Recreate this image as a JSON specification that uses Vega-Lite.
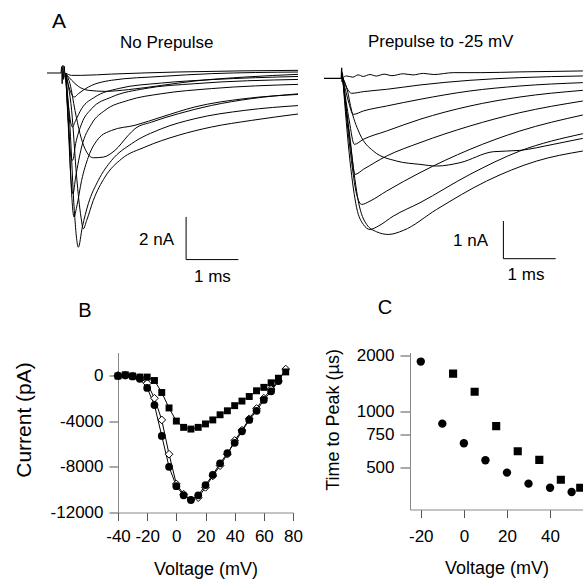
{
"$schema": "https://vega.github.io/schema/vega-lite/v6.json",
"padding": {"left": 13, "top": 10, "right": 0, "bottom": 2},
"config": {
  "font": "Liberation Sans",
  "view": {"stroke": null},
  "axis": {"grid": false, "labelFontSize": 17, "titleFontSize": 18, "titleFontWeight": "normal", "labelColor": "black", "titleColor": "black", "domainColor": "#888", "tickColor": "#555", "tickSize": 8, "labelFlush": false, "labelOverlap": false},
  "text": {"color": "black"}
},
"spacing": 291.5,
"bounds": "flush",
"datasets": {
  "a1": [
    {"trace":"T1","t":0.357,"I":0},{"trace":"T1","t":0.471,"I":-0.11},{"trace":"T1","t":0.662,"I":-0.11},{"trace":"T1","t":1.236,"I":-0.05},{"trace":"T1","t":2.51,"I":0.047},{"trace":"T1","t":4.834,"I":0.125},
    {"trace":"T2","t":0.357,"I":-0.03},{"trace":"T2","t":0.471,"I":-0.34},{"trace":"T2","t":0.599,"I":-0.625},{"trace":"T2","t":0.79,"I":-0.81},{"trace":"T2","t":1.108,"I":-0.86},{"trace":"T2","t":1.554,"I":-0.78},{"trace":"T2","t":2.191,"I":-0.58},{"trace":"T2","t":2.828,"I":-0.375},{"trace":"T2","t":3.783,"I":-0.19},{"trace":"T2","t":4.834,"I":-0.06},
    {"trace":"T3","t":0.357,"I":-0.03},{"trace":"T3","t":0.439,"I":-0.81},{"trace":"T3","t":0.522,"I":-1.125},{"trace":"T3","t":0.599,"I":-0.97},{"trace":"T3","t":0.79,"I":-0.66},{"trace":"T3","t":1.236,"I":-0.34},{"trace":"T3","t":2.191,"I":-0.16},{"trace":"T3","t":3.146,"I":-0.03},{"trace":"T3","t":4.834,"I":0.047},
    {"trace":"T4","t":0.357,"I":-0.03},{"trace":"T4","t":0.42,"I":-1.75},{"trace":"T4","t":0.484,"I":-2.53},{"trace":"T4","t":0.548,"I":-2.22},{"trace":"T4","t":0.662,"I":-1.67},{"trace":"T4","t":0.917,"I":-1.125},{"trace":"T4","t":1.363,"I":-0.73},{"trace":"T4","t":2.191,"I":-0.47},{"trace":"T4","t":3.146,"I":-0.31},{"trace":"T4","t":4.834,"I":-0.16},
    {"trace":"T5","t":0.357,"I":-0.03},{"trace":"T5","t":0.408,"I":-2.22},{"trace":"T5","t":0.459,"I":-3.94},{"trace":"T5","t":0.49,"I":-4.09},{"trace":"T5","t":0.548,"I":-3.31},{"trace":"T5","t":0.662,"I":-2.375},{"trace":"T5","t":0.854,"I":-1.67},{"trace":"T5","t":1.236,"I":-1.125},{"trace":"T5","t":1.873,"I":-0.73},{"trace":"T5","t":2.828,"I":-0.5},{"trace":"T5","t":4.834,"I":-0.3},
    {"trace":"T6","t":0.357,"I":-0.03},{"trace":"T6","t":0.439,"I":-0.5},{"trace":"T6","t":0.535,"I":-1.75},{"trace":"T6","t":0.631,"I":-2.84},{"trace":"T6","t":0.726,"I":-3.55},{"trace":"T6","t":0.885,"I":-3.97},{"trace":"T6","t":1.076,"I":-3.94},{"trace":"T6","t":1.299,"I":-3.625},{"trace":"T6","t":1.554,"I":-2.92},{"trace":"T6","t":1.682,"I":-2.61},{"trace":"T6","t":2.0,"I":-2.3},{"trace":"T6","t":2.51,"I":-1.91},{"trace":"T6","t":3.146,"I":-1.52},{"trace":"T6","t":3.911,"I":-1.2},{"trace":"T6","t":4.834,"I":-0.97},
    {"trace":"T7","t":0.357,"I":-0.03},{"trace":"T7","t":0.408,"I":-2.53},{"trace":"T7","t":0.459,"I":-5.03},{"trace":"T7","t":0.497,"I":-5.66},{"trace":"T7","t":0.548,"I":-4.875},{"trace":"T7","t":0.662,"I":-3.47},{"trace":"T7","t":0.854,"I":-2.375},{"trace":"T7","t":1.108,"I":-1.75},{"trace":"T7","t":1.554,"I":-1.28},{"trace":"T7","t":2.191,"I":-0.97},{"trace":"T7","t":3.146,"I":-0.73},{"trace":"T7","t":4.834,"I":-0.53},
    {"trace":"T8","t":0.357,"I":-0.03},{"trace":"T8","t":0.42,"I":-2.84},{"trace":"T8","t":0.471,"I":-5.66},{"trace":"T8","t":0.516,"I":-6.75},{"trace":"T8","t":0.567,"I":-6.28},{"trace":"T8","t":0.662,"I":-5.03},{"trace":"T8","t":0.79,"I":-3.94},{"trace":"T8","t":0.981,"I":-3.08},{"trace":"T8","t":1.236,"I":-2.69},{"trace":"T8","t":1.682,"I":-2.45},{"trace":"T8","t":2.191,"I":-2.06},{"trace":"T8","t":2.828,"I":-1.59},{"trace":"T8","t":3.783,"I":-1.2},{"trace":"T8","t":4.834,"I":-1.0},
    {"trace":"T9","t":0.357,"I":-0.03},{"trace":"T9","t":0.439,"I":-2.53},{"trace":"T9","t":0.522,"I":-6.44},{"trace":"T9","t":0.599,"I":-8.16},{"trace":"T9","t":0.675,"I":-7.22},{"trace":"T9","t":0.79,"I":-6.125},{"trace":"T9","t":0.981,"I":-5.03},{"trace":"T9","t":1.236,"I":-4.09},{"trace":"T9","t":1.618,"I":-3.31},{"trace":"T9","t":2.191,"I":-2.61},{"trace":"T9","t":2.828,"I":-2.14},{"trace":"T9","t":3.783,"I":-1.75},{"trace":"T9","t":4.834,"I":-1.52},
    {"trace":"T10","t":0.357,"I":-0.03},{"trace":"T10","t":0.471,"I":-1.75},{"trace":"T10","t":0.567,"I":-4.875},{"trace":"T10","t":0.65,"I":-6.75},{"trace":"T10","t":0.694,"I":-7.3},{"trace":"T10","t":0.758,"I":-6.91},{"trace":"T10","t":0.885,"I":-5.97},{"trace":"T10","t":1.108,"I":-4.875},{"trace":"T10","t":1.427,"I":-4.02},{"trace":"T10","t":1.873,"I":-3.47},{"trace":"T10","t":2.51,"I":-2.92},{"trace":"T10","t":3.146,"I":-2.53},{"trace":"T10","t":3.911,"I":-2.22},{"trace":"T10","t":4.834,"I":-1.91}
  ],
  "a1base": [
    {"t":0,"I":0},{"t":0.268,"I":0},{"t":0.28,"I":0.3},{"t":0.29,"I":-0.5},{"t":0.305,"I":0.36},{"t":0.318,"I":-0.3},{"t":0.331,"I":0.31},{"t":0.345,"I":-0.2},{"t":0.357,"I":0}
  ],
  "a1bar": [
    {"t1":2.66,"t2":2.66,"i1":-6.74,"i2":-8.74},
    {"t1":2.66,"t2":3.66,"i1":-8.74,"i2":-8.74}
  ],
  "a1text": [
    {"t":2.29,"I":1.405,"label":"No Prepulse"},
    {"t":2.094,"I":-7.8,"label":"2 nA"},
    {"t":3.164,"I":-9.555,"label":"1 ms"}
  ],
  "a2": [
    {"trace":"R1","t":0.357,"I":0.018},{"trace":"R1","t":0.433,"I":0.062},{"trace":"R1","t":0.55,"I":0.03},{"trace":"R1","t":0.65,"I":0.09},{"trace":"R1","t":0.75,"I":0.05},{"trace":"R1","t":0.879,"I":0.1},{"trace":"R1","t":1.0,"I":0.06},{"trace":"R1","t":1.15,"I":0.11},{"trace":"R1","t":1.3,"I":0.07},{"trace":"R1","t":1.516,"I":0.12},{"trace":"R1","t":1.7,"I":0.09},{"trace":"R1","t":1.9,"I":0.13},{"trace":"R1","t":2.1,"I":0.1},{"trace":"R1","t":2.471,"I":0.15},{"trace":"R1","t":3.0,"I":0.15},{"trace":"R1","t":3.745,"I":0.17},{"trace":"R1","t":4.949,"I":0.195},
    {"trace":"R2","t":0.357,"I":0.018},{"trace":"R2","t":0.433,"I":-0.248},{"trace":"R2","t":0.529,"I":-0.398},{"trace":"R2","t":0.752,"I":-0.354},{"trace":"R2","t":1.197,"I":-0.292},{"trace":"R2","t":1.834,"I":-0.177},{"trace":"R2","t":2.79,"I":-0.053},{"trace":"R2","t":3.745,"I":0.018},{"trace":"R2","t":4.949,"I":0.062},
    {"trace":"R3","t":0.357,"I":0.018},{"trace":"R3","t":0.465,"I":-0.602},{"trace":"R3","t":0.561,"I":-0.956},{"trace":"R3","t":0.752,"I":-0.867},{"trace":"R3","t":1.197,"I":-0.735},{"trace":"R3","t":1.834,"I":-0.558},{"trace":"R3","t":2.79,"I":-0.336},{"trace":"R3","t":3.745,"I":-0.204},{"trace":"R3","t":4.949,"I":-0.115},
    {"trace":"R4","t":0.357,"I":0.018},{"trace":"R4","t":0.484,"I":-1.133},{"trace":"R4","t":0.58,"I":-1.752},{"trace":"R4","t":0.752,"I":-1.619},{"trace":"R4","t":1.197,"I":-1.398},{"trace":"R4","t":1.834,"I":-1.088},{"trace":"R4","t":2.79,"I":-0.735},{"trace":"R4","t":3.745,"I":-0.496},{"trace":"R4","t":4.949,"I":-0.319},
    {"trace":"R5","t":0.357,"I":0.018},{"trace":"R5","t":0.497,"I":-1.575},{"trace":"R5","t":0.592,"I":-2.549},{"trace":"R5","t":0.752,"I":-2.416},{"trace":"R5","t":1.197,"I":-2.062},{"trace":"R5","t":1.834,"I":-1.708},{"trace":"R5","t":2.79,"I":-1.265},{"trace":"R5","t":3.745,"I":-0.912},{"trace":"R5","t":4.949,"I":-0.602},
    {"trace":"R6","t":0.357,"I":0.018},{"trace":"R6","t":0.51,"I":-2.018},{"trace":"R6","t":0.624,"I":-3.08},{"trace":"R6","t":0.72,"I":-3.345},{"trace":"R6","t":0.879,"I":-3.257},{"trace":"R6","t":1.197,"I":-2.991},{"trace":"R6","t":1.834,"I":-2.504},{"trace":"R6","t":2.79,"I":-1.885},{"trace":"R6","t":3.745,"I":-1.398},{"trace":"R6","t":4.949,"I":-0.973},
    {"trace":"R7","t":0.357,"I":0.018},{"trace":"R7","t":0.433,"I":-0.248},{"trace":"R7","t":0.529,"I":-0.867},{"trace":"R7","t":0.688,"I":-1.487},{"trace":"R7","t":0.943,"I":-1.929},{"trace":"R7","t":1.389,"I":-2.195},{"trace":"R7","t":1.834,"I":-2.283},{"trace":"R7","t":2.153,"I":-2.327},{"trace":"R7","t":2.599,"I":-2.239},{"trace":"R7","t":3.236,"I":-1.947},{"trace":"R7","t":3.745,"I":-1.912},{"trace":"R7","t":4.382,"I":-1.752},{"trace":"R7","t":4.949,"I":-1.593},
    {"trace":"R8","t":0.357,"I":0.018},{"trace":"R8","t":0.497,"I":-2.195},{"trace":"R8","t":0.624,"I":-3.434},{"trace":"R8","t":0.752,"I":-3.876},{"trace":"R8","t":0.879,"I":-4.009},{"trace":"R8","t":1.038,"I":-3.92},{"trace":"R8","t":1.325,"I":-3.655},{"trace":"R8","t":1.834,"I":-3.301},{"trace":"R8","t":2.79,"I":-2.549},{"trace":"R8","t":3.745,"I":-1.929},{"trace":"R8","t":4.949,"I":-1.469},
    {"trace":"R9","t":0.357,"I":0.018},{"trace":"R9","t":0.529,"I":-2.018},{"trace":"R9","t":0.656,"I":-3.257},{"trace":"R9","t":0.815,"I":-3.876},{"trace":"R9","t":1.006,"I":-4.071},{"trace":"R9","t":1.229,"I":-4.142},{"trace":"R9","t":1.516,"I":-4.035},{"trace":"R9","t":2.153,"I":-3.478},{"trace":"R9","t":3.108,"I":-2.726},{"trace":"R9","t":4.064,"I":-2.195},{"trace":"R9","t":4.949,"I":-1.929}
  ],
  "a2base": [
    {"t":0,"I":0},{"t":0.331,"I":0},{"t":0.338,"I":0.28},{"t":0.344,"I":-0.1},{"t":0.35,"I":0.15},{"t":0.357,"I":0.018}
  ],
  "a2bar": [
    {"t1":3.43,"t2":3.43,"i1":-3.785,"i2":-4.785},
    {"t1":3.43,"t2":4.43,"i1":-4.785,"i2":-4.785}
  ],
  "a2text": [
    {"t":2.23,"I":0.963,"label":"Prepulse to -25 mV"},
    {"t":2.801,"I":-4.316,"label":"1 nA"},
    {"t":3.862,"I":-5.22,"label":"1 ms"}
  ],
  "iv": [
    {"series":"open","v":-40,"I":0},{"series":"open","v":-35,"I":0},{"series":"open","v":-30,"I":-50},{"series":"open","v":-25,"I":-200},{"series":"open","v":-20,"I":-700},{"series":"open","v":-15,"I":-2000},{"series":"open","v":-10,"I":-3900},{"series":"open","v":-5,"I":-6900},{"series":"open","v":0,"I":-9500},{"series":"open","v":5,"I":-10400},{"series":"open","v":10,"I":-10900},{"series":"open","v":15,"I":-10700},{"series":"open","v":20,"I":-9800},{"series":"open","v":25,"I":-8800},{"series":"open","v":30,"I":-7900},{"series":"open","v":35,"I":-6900},{"series":"open","v":40,"I":-5700},{"series":"open","v":45,"I":-4800},{"series":"open","v":50,"I":-3800},{"series":"open","v":55,"I":-2900},{"series":"open","v":60,"I":-2000},{"series":"open","v":65,"I":-1200},{"series":"open","v":70,"I":-500},{"series":"open","v":75,"I":550},
    {"series":"circle","v":-40,"I":-50},{"series":"circle","v":-35,"I":0},{"series":"circle","v":-30,"I":-100},{"series":"circle","v":-25,"I":-300},{"series":"circle","v":-20,"I":-1100},{"series":"circle","v":-15,"I":-2600},{"series":"circle","v":-10,"I":-5300},{"series":"circle","v":-5,"I":-8000},{"series":"circle","v":0,"I":-9700},{"series":"circle","v":5,"I":-10500},{"series":"circle","v":10,"I":-10900},{"series":"circle","v":15,"I":-10500},{"series":"circle","v":20,"I":-9600},{"series":"circle","v":25,"I":-8700},{"series":"circle","v":30,"I":-7700},{"series":"circle","v":35,"I":-6800},{"series":"circle","v":40,"I":-5900},{"series":"circle","v":45,"I":-4900},{"series":"circle","v":50,"I":-3900},{"series":"circle","v":55,"I":-3100},{"series":"circle","v":60,"I":-2150},{"series":"circle","v":65,"I":-1400},{"series":"circle","v":70,"I":-500},
    {"series":"square","v":-40,"I":-50},{"series":"square","v":-35,"I":50},{"series":"square","v":-30,"I":-50},{"series":"square","v":-25,"I":-150},{"series":"square","v":-20,"I":-150},{"series":"square","v":-15,"I":-450},{"series":"square","v":-10,"I":-1500},{"series":"square","v":-5,"I":-2850},{"series":"square","v":0,"I":-4000},{"series":"square","v":5,"I":-4550},{"series":"square","v":10,"I":-4700},{"series":"square","v":15,"I":-4550},{"series":"square","v":20,"I":-4250},{"series":"square","v":25,"I":-3900},{"series":"square","v":30,"I":-3450},{"series":"square","v":35,"I":-3100},{"series":"square","v":40,"I":-2650},{"series":"square","v":45,"I":-2250},{"series":"square","v":50,"I":-1850},{"series":"square","v":55,"I":-1350},{"series":"square","v":60,"I":-1050},{"series":"square","v":65,"I":-650},{"series":"square","v":70,"I":-250},{"series":"square","v":75,"I":300}
  ],
  "ttp": [
    {"series":"circle","v":-20,"tp":1850},{"series":"circle","v":-10,"tp":860},{"series":"circle","v":0,"tp":675},{"series":"circle","v":10,"tp":547},{"series":"circle","v":20,"tp":470},{"series":"circle","v":30,"tp":410},{"series":"circle","v":40,"tp":390},{"series":"circle","v":50,"tp":370},
    {"series":"square","v":-5,"tp":1593},{"series":"square","v":5,"tp":1274},{"series":"square","v":15,"tp":834},{"series":"square","v":25,"tp":612},{"series":"square","v":35,"tp":550},{"series":"square","v":45,"tp":430},{"series":"square","v":54,"tp":390}
  ]
},
"vconcat": [
  {
    "hconcat": [
      {
        "width": 251, "height": 200,
        "layer": [
          {"data": {"name": "a1"}, "mark": {"type": "line", "interpolate": "monotone", "clip": true, "color": "black", "strokeWidth": 1},
           "encoding": {
             "x": {"field": "t", "type": "quantitative", "scale": {"domain": [0, 4.8], "nice": false, "zero": false}, "axis": null},
             "y": {"field": "I", "type": "quantitative", "scale": {"domain": [-8.806, 0.562], "nice": false, "zero": false}, "axis": null},
             "detail": {"field": "trace"}}},
          {"data": {"name": "a1base"}, "mark": {"type": "line", "color": "black", "strokeWidth": 1},
           "encoding": {"x": {"field": "t", "type": "quantitative", "axis": null}, "y": {"field": "I", "type": "quantitative", "axis": null}}},
          {"data": {"name": "a1bar"}, "mark": {"type": "rule", "color": "black", "strokeWidth": 1},
           "encoding": {"x": {"field": "t1", "type": "quantitative", "axis": null}, "x2": {"field": "t2"}, "y": {"field": "i1", "type": "quantitative", "axis": null}, "y2": {"field": "i2"}}},
          {"data": {"name": "a1text"}, "mark": {"type": "text", "fontSize": 17, "align": "center", "baseline": "middle"},
           "encoding": {"x": {"field": "t", "type": "quantitative", "axis": null}, "y": {"field": "I", "type": "quantitative", "axis": null}, "text": {"field": "label"}}},
          {"data": {"values": [{"t": 0.229, "I": 2.389, "label": "A"}]}, "mark": {"type": "text", "fontSize": 21, "align": "center", "baseline": "middle"},
           "encoding": {"x": {"field": "t", "type": "quantitative", "axis": null}, "y": {"field": "I", "type": "quantitative", "axis": null}, "text": {"field": "label"}}}
        ]
      },
      {
        "width": 259, "height": 200,
        "layer": [
          {"data": {"name": "a2"}, "mark": {"type": "line", "interpolate": "monotone", "clip": true, "color": "black", "strokeWidth": 1},
           "encoding": {
             "x": {"field": "t", "type": "quantitative", "scale": {"domain": [0, 4.952], "nice": false, "zero": false}, "axis": null},
             "y": {"field": "I", "type": "quantitative", "scale": {"domain": [-4.846, 0.459], "nice": false, "zero": false}, "axis": null},
             "detail": {"field": "trace"}}},
          {"data": {"name": "a2base"}, "mark": {"type": "line", "color": "black", "strokeWidth": 1.3},
           "encoding": {"x": {"field": "t", "type": "quantitative", "axis": null}, "y": {"field": "I", "type": "quantitative", "axis": null}}},
          {"data": {"name": "a2bar"}, "mark": {"type": "rule", "color": "black", "strokeWidth": 1},
           "encoding": {"x": {"field": "t1", "type": "quantitative", "axis": null}, "x2": {"field": "t2"}, "y": {"field": "i1", "type": "quantitative", "axis": null}, "y2": {"field": "i2"}}},
          {"data": {"name": "a2text"}, "mark": {"type": "text", "fontSize": 17, "align": "center", "baseline": "middle"},
           "encoding": {"x": {"field": "t", "type": "quantitative", "axis": null}, "y": {"field": "I", "type": "quantitative", "axis": null}, "text": {"field": "label"}}}
        ]
      }
    ],
    "spacing": 26,
    "bounds": "flush"
  },
  {
    "hconcat": [
      {"width": 71, "height": 10, "data": {"values": []}, "mark": "point"},
      {
        "hconcat": [
          {
            "width": 175, "height": 160,
            "data": {"name": "iv"},
            "encoding": {
              "x": {"field": "v", "type": "quantitative", "scale": {"domain": [-40, 80], "nice": false, "zero": false},
                    "axis": {"values": [-40, -20, 0, 20, 40, 60, 80], "title": "Voltage (mV)", "labelPadding": 8, "titlePadding": 16, "labelExpr": "'' + datum.value"}},
              "y": {"field": "I", "type": "quantitative", "scale": {"domain": [-12000, 2000], "nice": false, "zero": false},
                    "axis": {"values": [0, -4000, -8000, -12000], "title": "Current (pA)", "titleFontSize": 21, "titleY": 67, "tickSize": 9, "labelPadding": 6, "titlePadding": 16, "labelExpr": "'' + datum.value"}}
            },
            "layer": [
              {"mark": {"type": "line", "color": "black", "strokeWidth": 1}, "encoding": {"detail": {"field": "series"}}},
              {"transform": [{"filter": "datum.series === 'open'"}], "mark": {"type": "point", "shape": "diamond", "filled": true, "fill": "white", "stroke": "black", "strokeWidth": 1, "size": 60, "opacity": 1}},
              {"transform": [{"filter": "datum.series === 'circle'"}], "mark": {"type": "point", "shape": "circle", "filled": true, "color": "black", "size": 60, "opacity": 1}},
              {"transform": [{"filter": "datum.series === 'square'"}], "mark": {"type": "point", "shape": "square", "filled": true, "color": "black", "size": 48, "opacity": 1}},
              {"data": {"values": [{"v": -62.6, "I": 5618, "label": "B"}]}, "mark": {"type": "text", "fontSize": 20, "align": "center", "baseline": "middle"}, "encoding": {"text": {"field": "label"}}}
            ]
          },
          {
            "width": 173, "height": 157,
            "data": {"name": "ttp"},
            "encoding": {
              "x": {"field": "v", "type": "quantitative", "scale": {"domain": [-25, 55.28], "nice": false, "zero": false},
                    "axis": {"values": [-20, 0, 20, 40], "title": "Voltage (mV)", "labelPadding": 11, "titlePadding": 15, "labelExpr": "'' + datum.value"}},
              "y": {"field": "tp", "type": "quantitative", "scale": {"type": "log", "domain": [298, 2069], "nice": false},
                    "axis": {"values": [500, 750, 1000, 2000], "title": "Time to Peak (µs)", "titleY": 67, "tickSize": 10, "labelPadding": 6, "titlePadding": 14, "labelExpr": "'' + datum.value"}}
            },
            "layer": [
              {"transform": [{"filter": "datum.series === 'circle'"}], "mark": {"type": "point", "shape": "circle", "filled": true, "color": "black", "size": 70, "opacity": 1, "clip": true}},
              {"transform": [{"filter": "datum.series === 'square'"}], "mark": {"type": "point", "shape": "square", "filled": true, "color": "black", "size": 66, "opacity": 1, "clip": true}},
              {"data": {"values": [{"v": -36.6, "tp": 3586, "label": "C"}]}, "mark": {"type": "text", "fontSize": 20, "align": "center", "baseline": "middle"}, "encoding": {"text": {"field": "label"}}}
            ]
          }
        ],
        "spacing": 117,
        "bounds": "flush"
      }
    ],
    "spacing": 0,
    "bounds": "flush"
  }
]
}
